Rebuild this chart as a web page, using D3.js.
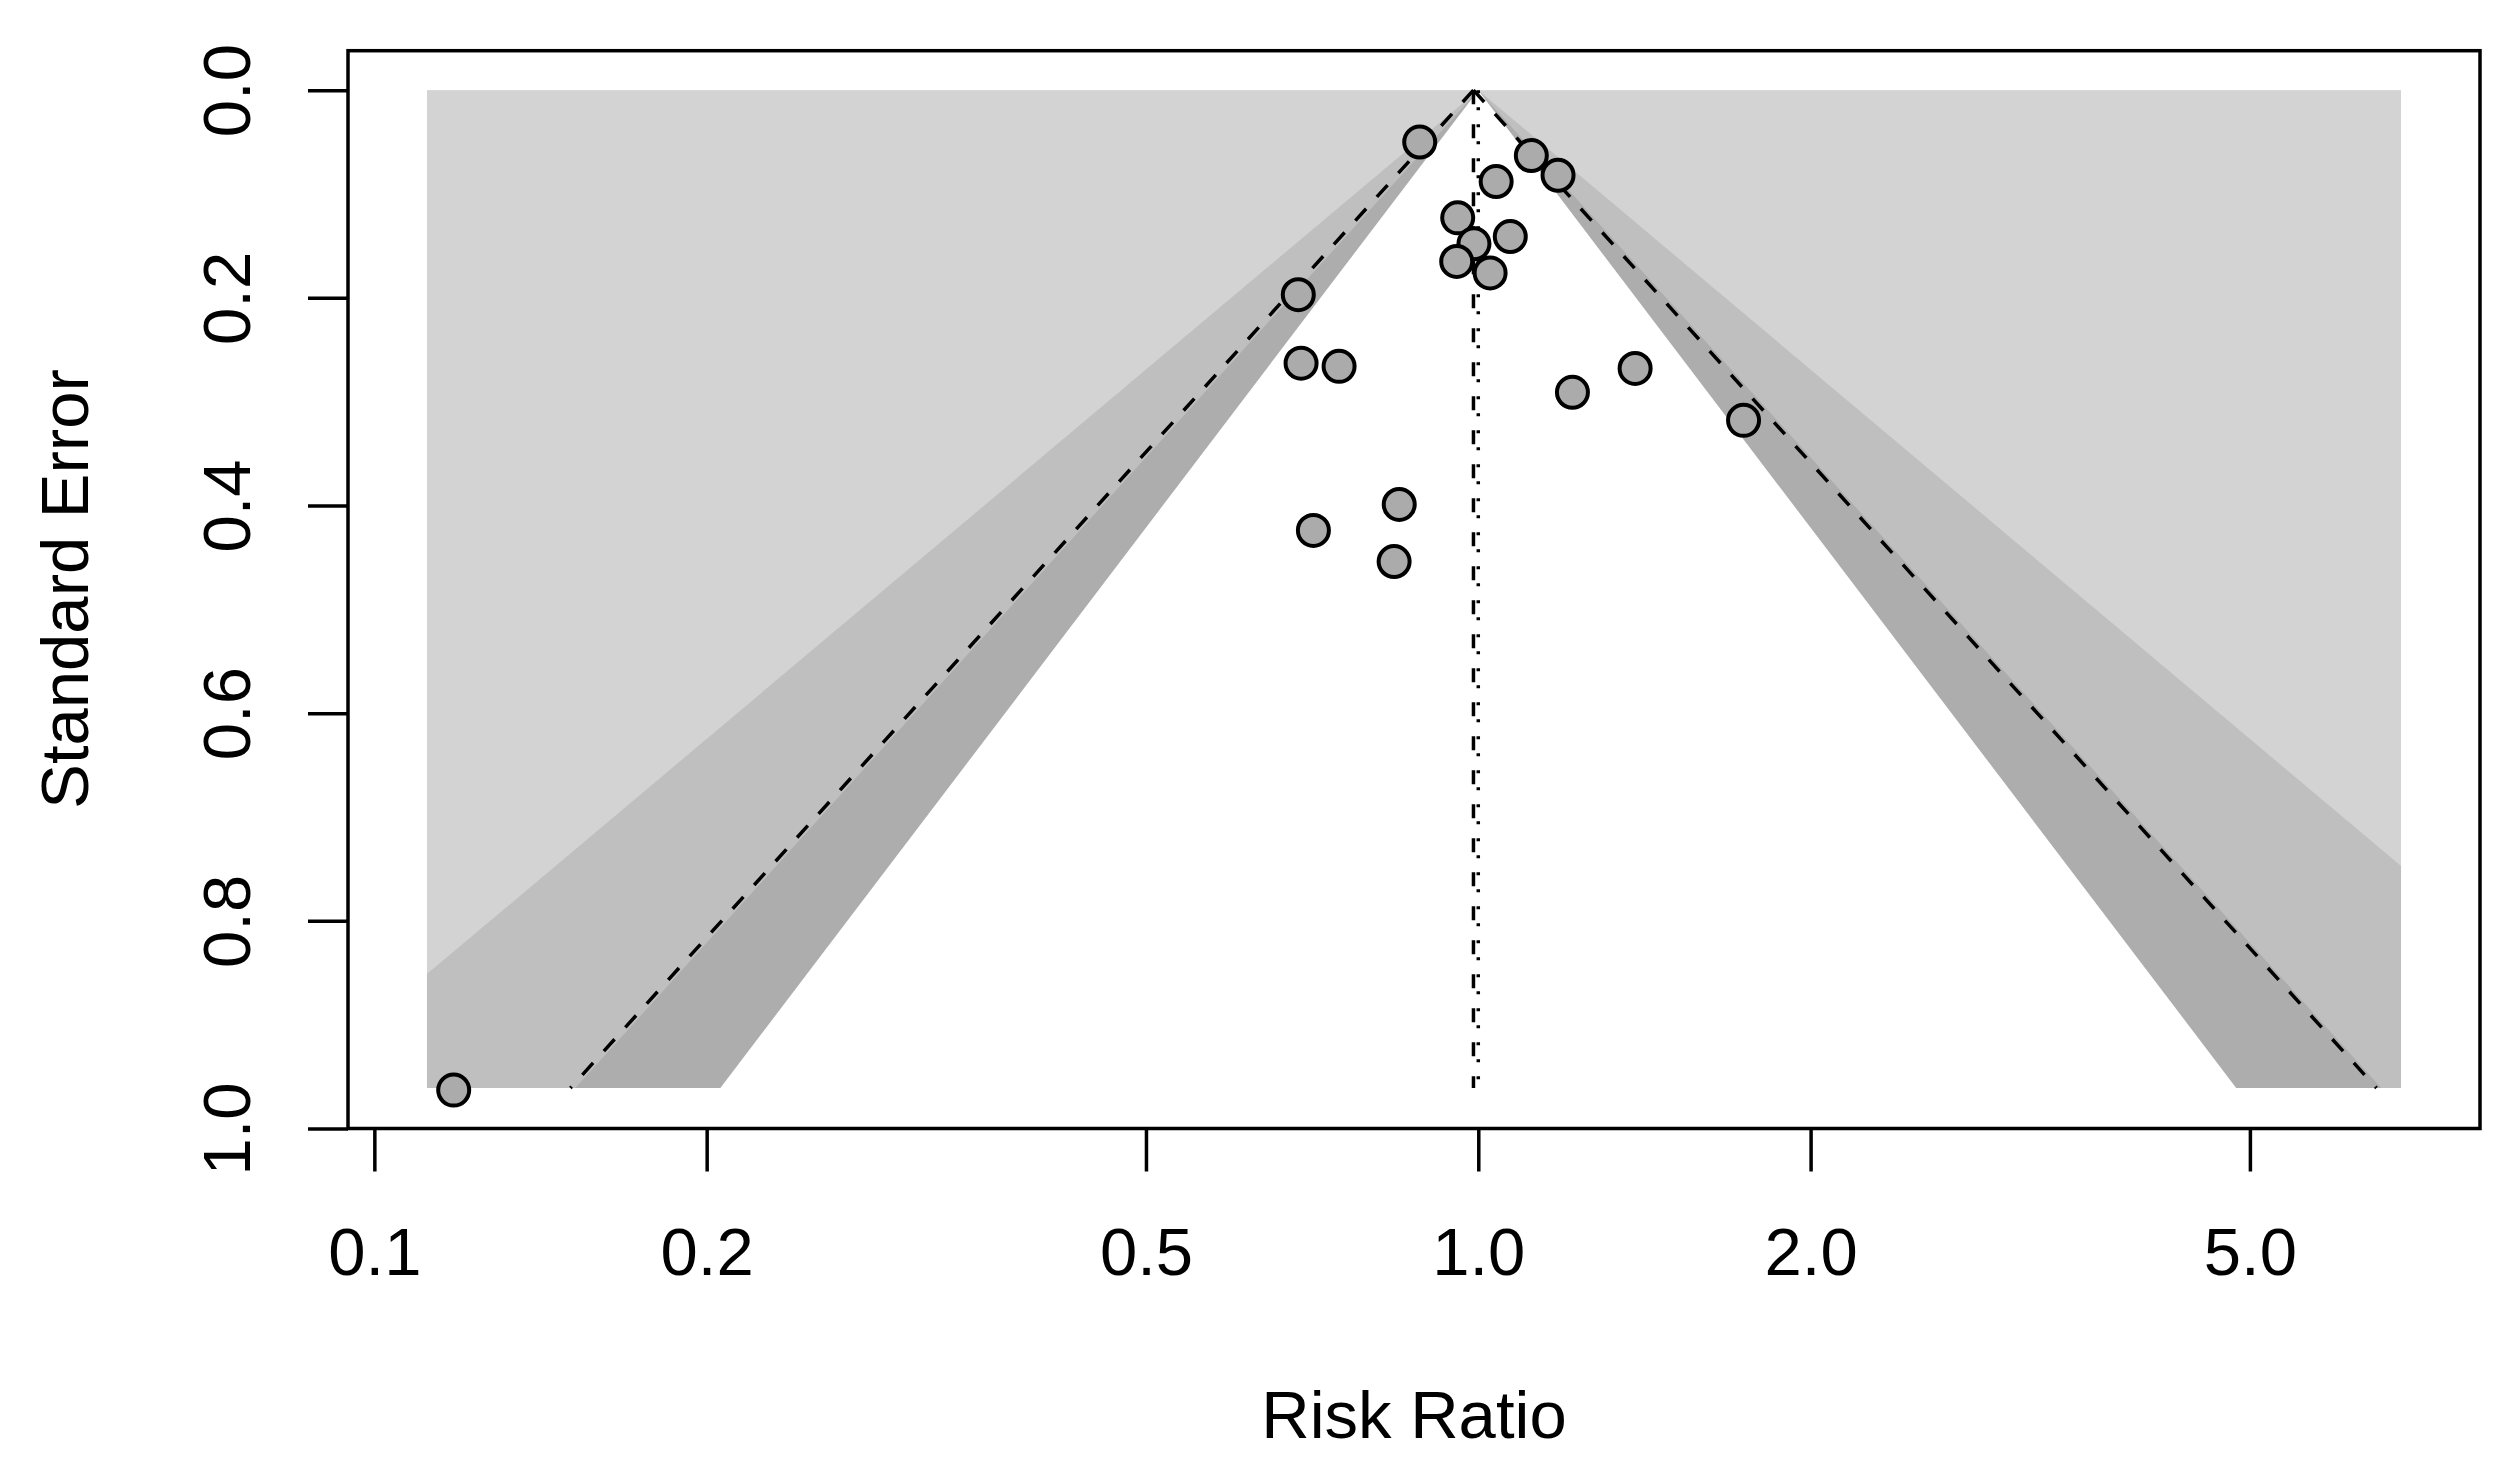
<!DOCTYPE html>
<html>
<head>
<meta charset="utf-8">
<script src="https://cdn.jsdelivr.net/npm/d3@7"></script>
<style>
  body { margin: 0; background: #fff; }
  text { font-family: "Liberation Sans", Arial, Helvetica, sans-serif; fill: #000; }
</style>
</head>
<body>
<svg id="chart" width="2517" height="1462"></svg>
<script>
// study estimates
var riskRatio = [0.885, 1.117, 1.181, 1.038, 0.958, 1.069, 0.991, 0.956, 1.025,
                 0.687, 0.691, 0.748, 1.387, 1.217, 1.739, 0.848, 0.709, 0.839, 0.118];
var stdErr    = [0.050, 0.063, 0.082, 0.088, 0.123, 0.141, 0.148, 0.165, 0.176,
                 0.197, 0.263, 0.266, 0.268, 0.291, 0.318, 0.399, 0.424, 0.454, 0.963];

var xTicks = [0.1, 0.2, 0.5, 1, 2, 5];
var xTickLabels = ["0.1", "0.2", "0.5", "1.0", "2.0", "5.0"];
var yTicks = [0, 0.2, 0.4, 0.6, 0.8, 1.0];
var yTickLabels = ["0.0", "0.2", "0.4", "0.6", "0.8", "1.0"];

// contour levels (z for 99%, 95%, 90%) and their shades
var contourZ = [2.576, 1.960, 1.645];
var contourFill = ["#bfbfbf", "#adadad", "#ffffff"];
var backFill = "#d3d3d3";

var estimate = 0.99;      // pooled RR
var refValue = 1;         // contour centre
var maxSE = 0.961;        // bottom of funnel
var xLimits = [0.1116, 6.853];

var w = 2517, h = 1462;
var svg = d3.select("#chart");

// R style 4% extension of the log x range
var lo = Math.log10(xLimits[0]), hi = Math.log10(xLimits[1]);
var ext = 0.04 * (hi - lo);
var x = d3.scaleLog()
  .domain([Math.pow(10, lo - ext), Math.pow(10, hi + ext)])
  .range([348, 2480]);
var y = d3.scaleLinear()
  .domain([-0.038, 1.0])
  .range([50.7, 1128.5]);

var defs = svg.append("defs");
defs.append("clipPath").attr("id", "back-clip")
  .append("rect")
  .attr("x", x(xLimits[0]))
  .attr("y", y(0))
  .attr("width", x(xLimits[1]) - x(xLimits[0]))
  .attr("height", y(maxSE) - y(0));

// background region
svg.append("rect")
  .attr("x", x(xLimits[0]))
  .attr("y", y(0))
  .attr("width", x(xLimits[1]) - x(xLimits[0]))
  .attr("height", y(maxSE) - y(0))
  .attr("fill", backFill);

var shade = svg.append("g").attr("clip-path", "url(#back-clip)");
contourZ.forEach(function(z, i){
  var pts = [
    [refValue * Math.exp(-z * maxSE), maxSE],
    [refValue, 0],
    [refValue * Math.exp(z * maxSE), maxSE]
  ];
  shade.append("polygon")
    .attr("points", pts.map(function(p){ return x(p[0]) + "," + y(p[1]); }).join(" "))
    .attr("fill", contourFill[i]);
});

// pseudo confidence lines
var lines = svg.append("g");
[-1, 1].forEach(function(s){
  lines.append("line")
    .attr("x1", x(estimate)).attr("y1", y(0))
    .attr("x2", x(estimate * Math.exp(s * 1.96 * maxSE))).attr("y2", y(maxSE))
    .attr("stroke", "#000").attr("stroke-width", 3.5)
    .attr("stroke-dasharray", "16,16");
});
// estimate line (dotted) and reference line at 1 (dotted, offset)
lines.append("line")
  .attr("x1", x(estimate)).attr("y1", y(0))
  .attr("x2", x(estimate)).attr("y2", y(maxSE))
  .attr("stroke", "#000").attr("stroke-width", 3.5)
  .attr("stroke-dasharray", "14,20");
lines.append("line")
  .attr("x1", x(refValue)).attr("y1", y(0))
  .attr("x2", x(refValue)).attr("y2", y(maxSE))
  .attr("stroke", "#000").attr("stroke-width", 3.5)
  .attr("stroke-dasharray", "3,14");

// study points
svg.append("g").selectAll("circle")
  .data(riskRatio)
  .enter()
  .append("circle")
  .attr("cx", function(d){ return x(d); })
  .attr("cy", function(d, i){ return y(stdErr[i]); })
  .attr("r", 15.5)
  .attr("fill", "#ababab")
  .attr("stroke", "#000")
  .attr("stroke-width", 4);

// box
svg.append("rect")
  .attr("x", 348).attr("y", 50.7)
  .attr("width", 2480 - 348).attr("height", 1128.5 - 50.7)
  .attr("fill", "none").attr("stroke", "#000").attr("stroke-width", 3.5);

// x axis
var xAxis = svg.append("g")
  .attr("transform", "translate(0," + 1128.5 + ")")
  .call(d3.axisBottom(x).tickValues(xTicks)
    .tickFormat(function(d, i){ return xTickLabels[i]; })
    .tickSize(43));
xAxis.select(".domain").remove();
xAxis.selectAll("line").attr("stroke", "#000").attr("stroke-width", 3.5);
xAxis.selectAll("text")
  .attr("y", 146).attr("dy", 0)
  .attr("font-size", "67px")
  .attr("font-family", "Liberation Sans, Arial, sans-serif");

// y axis
var yAxis = svg.append("g")
  .attr("transform", "translate(348,0)")
  .call(d3.axisLeft(y).tickValues(yTicks)
    .tickFormat(function(d, i){ return yTickLabels[i]; })
    .tickSize(40));
yAxis.select(".domain").remove();
yAxis.selectAll("line").attr("stroke", "#000").attr("stroke-width", 3.5);
yAxis.selectAll("text")
  .attr("x", 0).attr("dy", 0)
  .attr("text-anchor", "middle")
  .attr("transform", "translate(-98,0) rotate(-90)")
  .attr("font-size", "67px")
  .attr("font-family", "Liberation Sans, Arial, sans-serif");

// titles
svg.append("text")
  .attr("x", 1414).attr("y", 1437.6)
  .attr("text-anchor", "middle")
  .attr("font-size", "67px")
  .text("Risk Ratio");
svg.append("text")
  .attr("transform", "translate(88,589) rotate(-90)")
  .attr("text-anchor", "middle")
  .attr("font-size", "67px")
  .text("Standard Error");
</script>
</body>
</html>
